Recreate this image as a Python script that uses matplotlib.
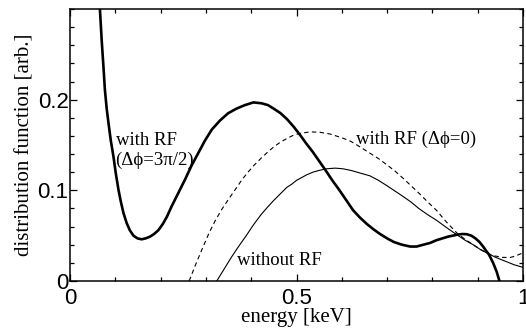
import matplotlib
matplotlib.use('Agg')
import matplotlib.pyplot as plt
from matplotlib.ticker import MultipleLocator

# with RF (dphi = 3pi/2), thick line
rf32_x = [0.0635, 0.066, 0.070, 0.074, 0.077, 0.081, 0.085, 0.090, 0.096, 0.101, 0.107, 0.112,
          0.118, 0.125, 0.132, 0.140, 0.149, 0.158, 0.167, 0.177, 0.186, 0.195, 0.205, 0.214,
          0.224, 0.239, 0.254, 0.268, 0.283, 0.298, 0.313, 0.331, 0.349, 0.367, 0.386, 0.405,
          0.423, 0.437, 0.450, 0.465, 0.480, 0.494, 0.508, 0.521, 0.535, 0.549, 0.563, 0.579,
          0.595, 0.610, 0.625, 0.640, 0.655, 0.670, 0.684, 0.700, 0.715, 0.733, 0.751, 0.765,
          0.780, 0.795, 0.809, 0.822, 0.835, 0.845, 0.854, 0.866, 0.876, 0.886, 0.895, 0.904,
          0.912, 0.919, 0.925, 0.930, 0.934, 0.938, 0.942, 0.945, 0.948]
rf32_y = [0.32, 0.30, 0.265, 0.235, 0.211, 0.190, 0.174, 0.155, 0.137, 0.119, 0.1006, 0.088,
          0.075, 0.064, 0.056, 0.050, 0.047, 0.046, 0.047, 0.049, 0.052, 0.056, 0.063, 0.071,
          0.082, 0.097, 0.112, 0.127, 0.141, 0.155, 0.167, 0.177, 0.185, 0.190, 0.194, 0.197,
          0.196, 0.194, 0.190, 0.185, 0.178, 0.170, 0.161, 0.152, 0.143, 0.133, 0.123, 0.111,
          0.100, 0.089, 0.078, 0.070, 0.063, 0.057, 0.052, 0.047, 0.043, 0.040, 0.038, 0.038,
          0.040, 0.042, 0.045, 0.047, 0.049, 0.050, 0.051, 0.0518, 0.0516, 0.050, 0.047, 0.043,
          0.038, 0.033, 0.029, 0.024, 0.020, 0.015, 0.010, 0.005, 0.0]

# with RF (dphi = 0), dashed
rf0_x = [0.263, 0.278, 0.294, 0.307, 0.320, 0.335, 0.349, 0.365, 0.380, 0.393, 0.405, 0.423,
         0.436, 0.450, 0.464, 0.478, 0.494, 0.510, 0.530, 0.552, 0.575, 0.600, 0.620, 0.640,
         0.662, 0.681, 0.700, 0.718, 0.736, 0.753, 0.770, 0.790, 0.809, 0.831, 0.854, 0.872,
         0.890, 0.905, 0.920, 0.933, 0.945, 0.955, 0.964, 0.972, 0.980, 0.990, 1.0]
rf0_y = [0.0, 0.019, 0.038, 0.053, 0.066, 0.079, 0.0895, 0.101, 0.112, 0.120, 0.127, 0.136,
         0.142, 0.148, 0.153, 0.157, 0.161, 0.163, 0.1645, 0.164, 0.162, 0.158, 0.154, 0.148,
         0.141, 0.135, 0.128, 0.121, 0.113, 0.105, 0.097, 0.087, 0.078, 0.065, 0.053, 0.046,
         0.040, 0.035, 0.031, 0.028, 0.027, 0.026, 0.026, 0.026, 0.027, 0.029, 0.031]

# without RF, thin line
norf_x = [0.324, 0.340, 0.356, 0.372, 0.389, 0.405, 0.423, 0.437, 0.450, 0.464, 0.478, 0.490,
          0.500, 0.511, 0.522, 0.536, 0.550, 0.567, 0.585, 0.602, 0.620, 0.641, 0.662, 0.681,
          0.700, 0.718, 0.736, 0.753, 0.770, 0.790, 0.809, 0.831, 0.854, 0.872, 0.890, 0.905,
          0.920, 0.940, 0.960, 0.980, 1.0]
norf_y = [0.0, 0.013, 0.026, 0.038, 0.050, 0.062, 0.074, 0.082, 0.089, 0.096, 0.103, 0.107,
          0.111, 0.114, 0.117, 0.120, 0.122, 0.1238, 0.1245, 0.1238, 0.122, 0.119, 0.116, 0.111,
          0.105, 0.099, 0.093, 0.087, 0.080, 0.073, 0.067, 0.059, 0.051, 0.045, 0.040, 0.035,
          0.031, 0.026, 0.022, 0.018, 0.015]

serif = ['Liberation Serif', 'DejaVu Serif']
sans = ['Liberation Sans', 'DejaVu Sans']

fig = plt.figure(figsize=(5.26, 3.34), dpi=100)
ax = fig.add_axes([0.1331, 0.1587, 0.8612, 0.8143])

ax.plot(rf32_x, rf32_y, color='k', linewidth=1.9, solid_joinstyle='round')
ax.plot(rf0_x, rf0_y, color='k', linewidth=0.8, linestyle=(0, (4, 3)))
ax.plot(norf_x, norf_y, color='k', linewidth=0.8)

ax.set_xlim(0, 1)
ax.set_ylim(0, 0.3)
ax.xaxis.set_minor_locator(MultipleLocator(0.1))
ax.yaxis.set_minor_locator(MultipleLocator(0.02))
ax.set_xticks([0, 0.5, 1])
ax.set_xticklabels(['0', '0.5', '1'])
ax.set_yticks([0, 0.1, 0.2])
ax.set_yticklabels(['0', '0.1', '0.2'])

ax.tick_params(which='both', direction='in', top=True, right=True, width=0.9, colors='k')
ax.tick_params(which='major', length=5)
ax.tick_params(which='minor', length=3)
ax.tick_params(axis='x', pad=5)
ax.tick_params(axis='y', pad=1)
for lab in ax.get_xticklabels() + ax.get_yticklabels():
    lab.set_family(sans)
    lab.set_fontsize(16)
for s in ax.spines.values():
    s.set_linewidth(1.1)

ax.set_xlabel('energy [keV]', family=serif, fontsize=15, labelpad=-1)
ax.set_ylabel('distribution function [arb.]', family=serif, fontsize=15, labelpad=2)

ax.text(0.101, 0.155, 'with RF', family=serif, fontsize=13.5, va='center', ha='left')
ax.text(0.099, 0.133, '(Δϕ=3π/2)', family=serif, fontsize=13.5, va='center', ha='left')
ax.text(0.631, 0.156, 'with RF (Δϕ=0)', family=serif, fontsize=13.5, va='center', ha='left')
ax.text(0.368, 0.023, 'without RF', family=serif, fontsize=13.5, va='center', ha='left')

fig.savefig('out.png', dpi=100)
